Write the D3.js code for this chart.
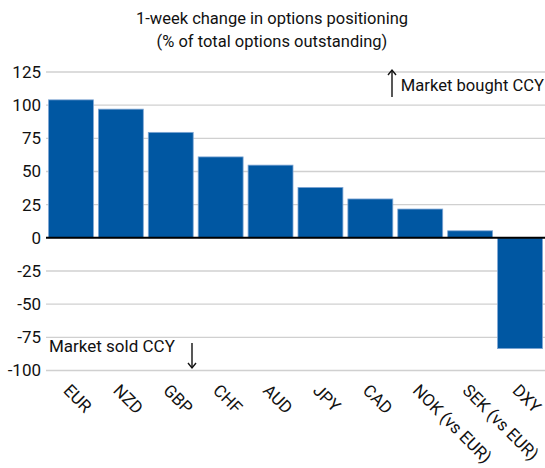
<!DOCTYPE html>
<html>
<head>
<meta charset="utf-8">
<script src="https://cdn.jsdelivr.net/npm/d3@7"></script>
<style>
  body { margin: 0; background: #fff; }
  svg { font-family: Roboto, "Noto Sans", sans-serif; }
</style>
</head>
<body>
<div id="chart"></div>
<script>
// currencies and 1-week change (% of total options outstanding)
const categories = ["EUR", "NZD", "GBP", "CHF", "AUD", "JPY", "CAD", "NOK (vs EUR)", "SEK (vs EUR)", "DXY"];
const values = [104, 97, 79.5, 61, 54.8, 38, 29.3, 21.7, 5.3, -83.5];
const yTicks = [125, 100, 75, 50, 25, 0, -25, -50, -75, -100];

const w = 545, h = 468;
const margin = {top: 72, right: 0, bottom: 97.5, left: 46};

const svg = d3.select("#chart")
    .append("svg")
    .attr("width", w)
    .attr("height", h);

let x = d3.scaleBand()
    .domain(categories)
    .range([margin.left, w - margin.right])
    .paddingInner(0.1)
    .paddingOuter(0.05);

let y = d3.scaleLinear()
    .domain([-100, 125])
    .range([h - margin.bottom, margin.top]);

// title
svg.append("text")
    .attr("x", 272).attr("y", 24)
    .attr("text-anchor", "middle")
    .style("font-size", "16.5px").style("fill", "#111")
    .text("1-week change in options positioning");
svg.append("text")
    .attr("x", 272).attr("y", 47)
    .attr("text-anchor", "middle")
    .style("font-size", "16.5px").style("fill", "#111")
    .text("(% of total options outstanding)");

// gridlines
svg.selectAll(".grid")
    .data(yTicks.filter(d => d != 0))
    .enter()
    .append("line")
    .attr("x1", margin.left).attr("x2", w)
    .attr("y1", d => y(d)).attr("y2", d => y(d))
    .style("stroke", "#d0d0d0").style("stroke-width", 1.3);

// y labels
svg.selectAll(".ylab")
    .data(yTicks)
    .enter()
    .append("text")
    .attr("x", 41)
    .attr("y", d => y(d))
    .attr("dy", "0.35em")
    .attr("text-anchor", "end")
    .style("font-size", "17px").style("fill", "#111")
    .text(d => d);

// bars
svg.selectAll(".bar")
    .data(values)
    .enter()
    .append("rect")
    .attr("x", (d, i) => x(categories[i]))
    .attr("width", x.bandwidth())
    .attr("y", d => y(Math.max(0, d)))
    .attr("height", d => Math.abs(y(d) - y(0)))
    .style("fill", "#0057a2")
    .style("stroke", "#7fa6d4")
    .style("stroke-width", 0.8);

// zero line
svg.append("line")
    .attr("x1", margin.left).attr("x2", w)
    .attr("y1", y(0)).attr("y2", y(0))
    .style("stroke", "#000").style("stroke-width", 2);

// x labels
svg.selectAll(".xlab")
    .data(categories)
    .enter()
    .append("text")
    .attr("transform", d => "translate(" + (x(d) + x.bandwidth() / 2) + "," + 383 + ") rotate(45)")
    .attr("dy", "0.71em")
    .style("font-size", "17px").style("fill", "#111")
    .text(d => d);

// annotations
let arrow = (x0, y0, y1) => {
    svg.append("line")
        .attr("x1", x0).attr("x2", x0).attr("y1", y0).attr("y2", y1)
        .style("stroke", "#111").style("stroke-width", 1.4);
    let s = y1 < y0 ? 1 : -1;
    svg.append("path")
        .attr("d", "M" + (x0 - 4) + "," + (y1 + s * 5) + "L" + x0 + "," + y1 + "L" + (x0 + 4) + "," + (y1 + s * 5))
        .style("fill", "none").style("stroke", "#111").style("stroke-width", 1.4);
};

svg.append("text")
    .attr("x", 544).attr("y", 91)
    .attr("text-anchor", "end")
    .style("font-size", "16.6px").style("fill", "#111")
    .text("Market bought CCY");
arrow(392, 97, 70);

svg.append("text")
    .attr("x", 49).attr("y", 352)
    .style("font-size", "17px").style("fill", "#111")
    .text("Market sold CCY");
arrow(192, 343, 368);
</script>
</body>
</html>
